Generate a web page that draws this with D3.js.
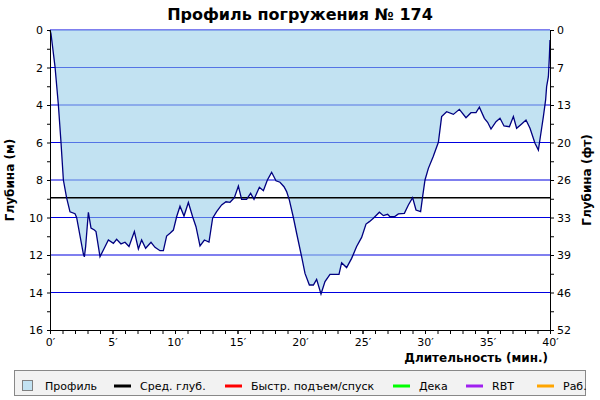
<!DOCTYPE html>
<html>
<head>
<meta charset="utf-8">
<script src="https://cdn.jsdelivr.net/npm/d3@7/dist/d3.min.js"></script>
<style>
  body { margin: 0; background: #fff; }
  svg text { font-family: "DejaVu Sans", Verdana, sans-serif; }
</style>
</head>
<body>
<svg id="chart" width="600" height="400"></svg>
<script>
// dive profile: time (min) and depth (m)
const times = [0, 0.08, 0.4, 0.67, 0.88, 1.07, 1.33, 1.6, 2.0, 2.13, 2.67, 2.75, 2.85, 3.07, 3.28, 3.55, 3.68,
  4.0, 4.35, 4.67, 5.07, 5.33, 5.68, 6.0, 6.32, 6.75, 7.07, 7.33, 7.65, 8.08, 8.4, 8.8, 9.07, 9.33, 9.6, 9.87,
  10.13, 10.4, 10.72, 11.07, 11.41, 11.68, 12.0, 12.35, 12.72, 13.01, 13.33, 13.73, 14.08, 14.4, 14.75,
  15.07, 15.33, 15.73, 16.05, 16.32, 16.75, 17.07, 17.39, 17.73, 18.08, 18.4, 18.72, 18.93, 19.15, 19.47, 19.73,
  20.13, 20.4, 20.75, 21.07, 21.33, 21.68, 22.0, 22.4, 23.12, 23.33, 23.73, 24.13, 24.53, 24.93,
  25.28, 25.55, 25.87, 26.35, 26.67, 27.01, 27.2, 27.55, 27.87, 28.35, 28.67, 29.01, 29.28, 29.65, 29.81,
  30.0, 30.27, 30.65, 31.07, 31.33, 31.73, 32.27, 32.75, 33.28, 33.68, 34.08, 34.35, 34.75,
  35.01, 35.28, 35.68, 36.0, 36.32, 36.75, 37.07, 37.33, 37.73, 38.08, 38.4, 38.8, 39.07, 39.25,
  39.47, 39.65, 39.73, 39.87, 39.95, 40.0];
const depths = [0, 0.2, 1.95, 4.0, 6.0, 8.0, 8.95, 9.7, 9.8, 10.0, 11.95, 12.1, 11.55, 9.72, 10.56, 10.67, 10.75,
  12.09, 11.63, 11.2, 11.38, 11.16, 11.41, 11.32, 11.55, 10.75, 11.68, 11.2, 11.64, 11.32, 11.59, 11.77, 11.77, 10.99, 10.84, 10.67,
  9.96, 9.4, 9.92, 9.2, 9.96, 10.49, 11.52, 11.2, 11.31, 10.04, 9.69, 9.33, 9.16, 9.19, 8.94,
  8.32, 9.03, 9.03, 8.71, 9.03, 8.39, 8.57, 8.0, 7.59, 8.04, 8.12, 8.36, 8.62, 9.07, 10.0, 10.84,
  12.09, 12.98, 13.6, 13.6, 13.3, 14.08, 13.42, 13.03, 13.03, 12.41, 12.67, 12.18, 11.55, 11.06,
  10.35, 10.22, 10.04, 9.72, 9.9, 9.83, 9.96, 9.96, 9.81, 9.78, 9.33, 8.94, 9.6, 9.69, 8.89,
  8.0, 7.38, 6.76, 5.99, 4.62, 4.36, 4.5, 4.23, 4.68, 4.41, 4.41, 4.12, 4.71,
  4.92, 5.28, 4.89, 4.71, 5.12, 5.16, 4.62, 5.24, 5.01, 4.8, 5.24, 6.04, 6.4, 5.6,
  4.62, 3.73, 3.02, 2.49, 1.42, 0.53];
const avgDepth = 8.95;

const depthTicks = [0, 2, 4, 6, 8, 10, 12, 14, 16];
const feetLabels = ["0", "7", "13", "20", "26", "33", "39", "46", "52"];
const timeTicks = [0, 5, 10, 15, 20, 25, 30, 35, 40];

const legendNames = ["Профиль", "Сред. глуб.", "Быстр. подъем/спуск", "Дека", "RBT", "Раб."];
const legendColors = ["#c2e2f2", "#000000", "#ff0000", "#00ff00", "#a020f0", "#ffa500"];
const legendX = [22, 114, 225, 393, 466, 537];

const svg = d3.select("#chart");
const plot = {left: 50, right: 550, top: 30, bottom: 330};

const x = d3.scaleLinear().domain([0, 40]).range([plot.left, plot.right]);
const y = d3.scaleLinear().domain([0, 16]).range([plot.top, plot.bottom]);

const profile = times.map((t, i) => ({t: t, d: depths[i]}));

// horizontal grid
svg.append("g")
  .selectAll("line")
  .data(depthTicks.slice(0, -1))
  .enter().append("line")
  .attr("x1", plot.left).attr("x2", plot.right)
  .attr("y1", d => y(d)).attr("y2", d => y(d))
  .attr("stroke", "#0000e0")
  .attr("stroke-width", 1.2);

// filled area above the profile
const area = d3.area()
  .x(d => x(d.t))
  .y0(y(0))
  .y1(d => y(d.d));

svg.append("path")
  .datum(profile)
  .attr("d", area)
  .attr("fill", "rgb(148,204,232)")
  .attr("fill-opacity", 0.57);

// average depth
svg.append("line")
  .attr("x1", plot.left).attr("x2", plot.right)
  .attr("y1", y(avgDepth)).attr("y2", y(avgDepth))
  .attr("stroke", "#000")
  .attr("stroke-width", 1.5);

// profile line
svg.append("path")
  .datum(profile)
  .attr("d", d3.line().x(d => x(d.t)).y(d => y(d.d)))
  .attr("fill", "none")
  .attr("stroke", "#000080")
  .attr("stroke-width", 1.3);

// axes
function styleAxis(g){
  g.selectAll("text").attr("font-size", 11).attr("fill", "#000");
  g.selectAll("line, path").attr("stroke", "#000");
}

svg.append("g")
  .attr("transform", "translate(" + plot.left + ",0)")
  .call(d3.axisLeft(y).tickValues(depthTicks).tickSize(3).tickPadding(4).tickSizeOuter(0))
  .call(styleAxis);
svg.append("g")
  .attr("transform", "translate(" + plot.left + ",0)")
  .call(d3.axisLeft(y).tickValues(d3.range(1, 16, 2)).tickSize(3).tickFormat("").tickSizeOuter(0))
  .call(styleAxis);

svg.append("g")
  .attr("transform", "translate(" + plot.right + ",0)")
  .call(d3.axisRight(y).tickValues(depthTicks).tickSize(4).tickPadding(3).tickSizeOuter(0)
    .tickFormat((d, i) => feetLabels[i]))
  .call(styleAxis);
svg.append("g")
  .attr("transform", "translate(" + plot.right + ",0)")
  .call(d3.axisRight(y).tickValues(d3.range(1, 16, 2)).tickSize(4).tickFormat("").tickSizeOuter(0))
  .call(styleAxis);

svg.append("g")
  .attr("transform", "translate(0," + plot.bottom + ")")
  .call(d3.axisBottom(x).tickValues(timeTicks).tickSize(4).tickPadding(4).tickSizeOuter(0)
    .tickFormat(d => d + "′"))
  .call(styleAxis);
svg.append("g")
  .attr("transform", "translate(0," + plot.bottom + ")")
  .call(d3.axisBottom(x).tickValues(d3.range(0, 41, 1)).tickSize(4).tickFormat("").tickSizeOuter(0))
  .call(styleAxis);

// titles
svg.append("text")
  .attr("x", 300).attr("y", 20)
  .attr("text-anchor", "middle")
  .attr("font-size", 16).attr("font-weight", "bold")
  .text("Профиль погружения № 174");

svg.append("text")
  .attr("transform", "translate(14,180) rotate(-90)")
  .attr("text-anchor", "middle")
  .attr("font-size", 12).attr("font-weight", "bold")
  .text("Глубина (м)");

svg.append("text")
  .attr("transform", "translate(591,180) rotate(-90)")
  .attr("text-anchor", "middle")
  .attr("font-size", 12).attr("font-weight", "bold")
  .text("Глубина (фт)");

svg.append("text")
  .attr("x", 548).attr("y", 362)
  .attr("text-anchor", "end")
  .attr("font-size", 12).attr("font-weight", "bold")
  .text("Длительность (мин.)");

// legend
svg.append("rect")
  .attr("x", 14.5).attr("y", 370.5)
  .attr("width", 571).attr("height", 25)
  .attr("fill", "#f2f2f2")
  .attr("stroke", "#888");

const items = svg.append("g").selectAll("g")
  .data(legendNames)
  .enter().append("g")
  .attr("transform", (d, i) => "translate(" + legendX[i] + ",0)");

items.each(function(d, i){
  const g = d3.select(this);
  if (i === 0) {
    g.append("rect")
      .attr("x", 0.5).attr("y", 380.5).attr("width", 10).attr("height", 10)
      .attr("fill", legendColors[i]).attr("stroke", "#808080");
  } else {
    g.append("line")
      .attr("x1", 0).attr("x2", 17).attr("y1", 386).attr("y2", 386)
      .attr("stroke", legendColors[i]).attr("stroke-width", 3);
  }
  g.append("text")
    .attr("x", i === 0 ? 23 : 26).attr("y", 390)
    .attr("font-size", 11)
    .text(d);
});
</script>
</body>
</html>
